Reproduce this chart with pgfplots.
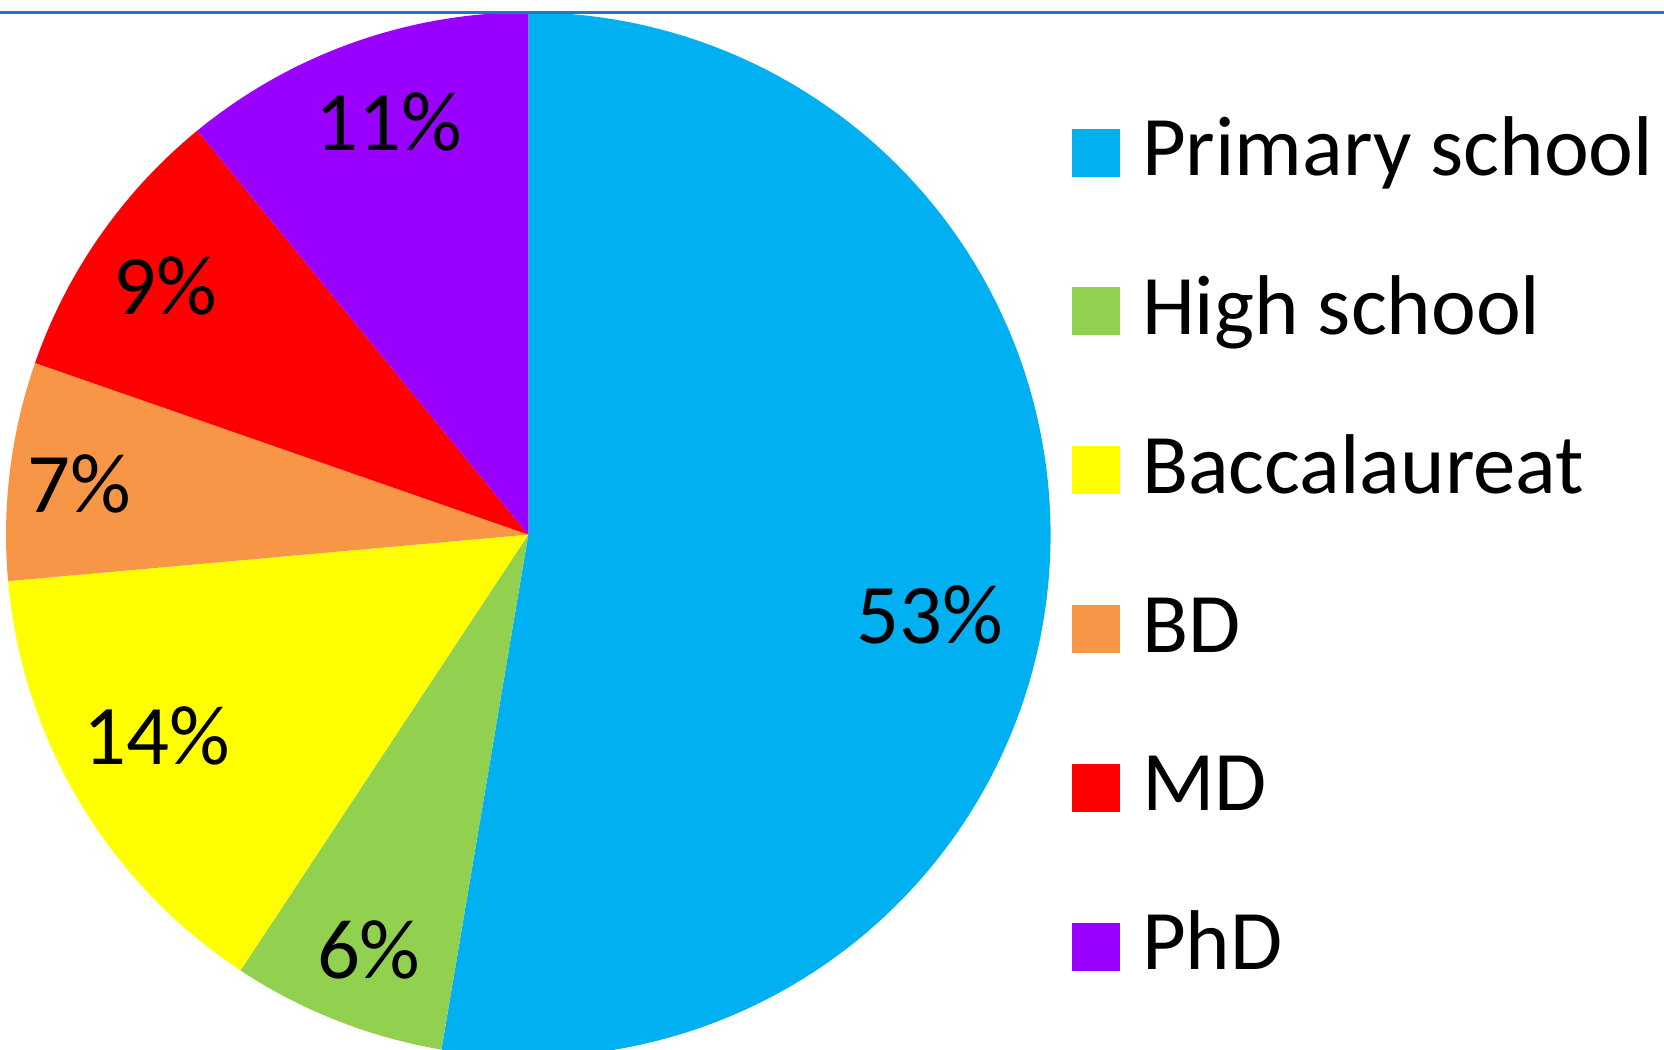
\documentclass[border=0pt]{standalone}
\usepackage{pgfplots}
\pgfplotsset{compat=1.18}
\usepackage{fontspec}
\setmainfont{Carlito}
\definecolor{cblue}{HTML}{00B0F0}
\definecolor{cgreen}{HTML}{92D050}
\definecolor{cyellow}{HTML}{FFFF00}
\definecolor{corange}{HTML}{F79646}
\definecolor{cred}{HTML}{FF0000}
\definecolor{cpurple}{HTML}{9900FF}
\definecolor{topblue}{RGB}{30,120,200}
% shares (percent)
\def\vA{52.66}\def\vB{6.63}\def\vC{14.29}\def\vD{6.75}\def\vE{8.75}\def\vF{10.92}
% pie geometry in picture pixels
\def\cx{528.3}\def\cy{534.6}\def\rr{522.3}
\pgfmathsetmacro\aA{-90}
\pgfmathsetmacro\aB{\aA+3.6*\vA}
\pgfmathsetmacro\aC{\aB+3.6*\vB}
\pgfmathsetmacro\aD{\aC+3.6*\vC}
\pgfmathsetmacro\aE{\aD+3.6*\vD}
\pgfmathsetmacro\aF{\aE+3.6*\vE}
\pgfmathsetmacro\aG{\aF+3.6*\vF}
\begin{document}
\begin{tikzpicture}
\begin{axis}[
  name=ax,
  scale only axis, width=832pt, height=524.5pt,
  xmin=0, xmax=1664, ymin=0, ymax=1049, y dir=reverse,
  hide axis, clip=true,
  legend cell align=left,
  legend image code/.code={\fill[#1,draw=none] (0pt,-12pt) rectangle (24pt,12pt);},
  legend style={draw=none, fill=none, inner sep=0pt, outer sep=0pt,
    at={(axis cs:1072,109.3)}, anchor=north west,
    font=\fontsize{42.4}{50}\selectfont,
    row sep=36.2pt,
    /tikz/every odd column/.append style={column sep=11pt},
    nodes={inner sep=0pt, text height=33.2pt, text depth=10pt}},
]
\addplot[fill=cblue, draw=none, domain=\aA:\aB, samples=120, variable=\t]
  ({\cx+\rr*cos(\t)},{\cy+\rr*sin(\t)}) -- (axis cs:\cx,\cy) -- cycle;
\addlegendentry{Primary school}
\addplot[fill=cgreen, draw=none, domain=\aB:\aC, samples=30, variable=\t]
  ({\cx+\rr*cos(\t)},{\cy+\rr*sin(\t)}) -- (axis cs:\cx,\cy) -- cycle;
\addlegendentry{High school}
\addplot[fill=cyellow, draw=none, domain=\aC:\aD, samples=50, variable=\t]
  ({\cx+\rr*cos(\t)},{\cy+\rr*sin(\t)}) -- (axis cs:\cx,\cy) -- cycle;
\addlegendentry{Baccalaureat}
\addplot[fill=corange, draw=none, domain=\aD:\aE, samples=30, variable=\t]
  ({\cx+\rr*cos(\t)},{\cy+\rr*sin(\t)}) -- (axis cs:\cx,\cy) -- cycle;
\addlegendentry{BD}
\addplot[fill=cred, draw=none, domain=\aE:\aF, samples=30, variable=\t]
  ({\cx+\rr*cos(\t)},{\cy+\rr*sin(\t)}) -- (axis cs:\cx,\cy) -- cycle;
\addlegendentry{MD}
\addplot[fill=cpurple, draw=none, domain=\aF:\aG, samples=40, variable=\t]
  ({\cx+\rr*cos(\t)},{\cy+\rr*sin(\t)}) -- (axis cs:\cx,\cy) -- cycle;
\addlegendentry{PhD}
\addplot[forget plot, color=topblue, line width=1.4pt] coordinates {(0,12.5) (1664,12.5)};
\begin{scope}[every node/.style={anchor=base, font=\fontsize{42.4}{50}\selectfont, inner sep=0pt}]
\node at (axis cs:929.7,643.3) {53\%};
\node at (axis cs:368.8,978) {6\%};
\node at (axis cs:156.5,764.5) {14\%};
\node at (axis cs:79.6,512) {7\%};
\node at (axis cs:165,314.5) {9\%};
\node at (axis cs:388.8,150) {11\%};
\end{scope}
\end{axis}
\pgfresetboundingbox
\useasboundingbox (ax.south west) rectangle (ax.north east);
\end{tikzpicture}
\end{document}
